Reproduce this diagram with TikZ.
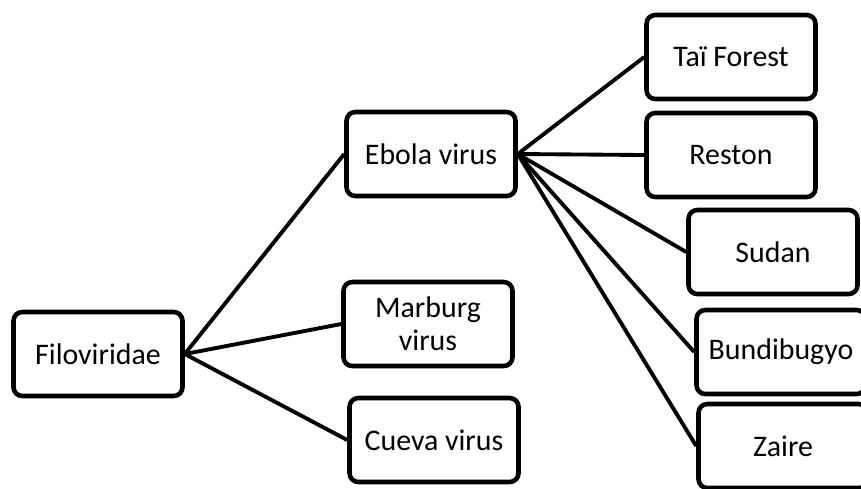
\documentclass[tikz,border=0pt]{standalone}
\usepackage{fontspec}
\setmainfont{Carlito}
\begin{document}
\begin{tikzpicture}[x=0.02cm, y=-0.02cm,
  box/.style={draw, line width=2.6pt, rounded corners=5pt,
    minimum width=3.38cm, minimum height=1.68cm, inner sep=2pt,
    align=center, font=\fontsize{17}{19}\selectfont},
  link/.style={line width=2.2pt}]
  \useasboundingbox (0,0) rectangle (861,488);
  \clip (0,0) rectangle (861,488);
  \def\Xa{98};  % family
  \def\Xb{431}; % genus
  \def\Xc{731}; % species

  % family and genera
  \node[box] (filo) at (\Xa,354) {Filoviridae};
  \node[box] (ebola) at (\Xb,154) {Ebola virus};
  \node[box] (marburg) at (\Xb - 3,324) {Marburg\\virus};
  \node[box] (cueva) at (\Xb + 3,440) {Cueva virus};

  % species of ebola
  \node[box] (tai) at (\Xc,57) {Taï Forest};
  \node[box] (reston) at (\Xc,155) {Reston};
  \node[box] (sudan) at (\Xc + 42,252) {Sudan};
  \node[box] (bundi) at (\Xc + 50,352) {Bundibugyo};
  \node[box] (zaire) at (\Xc + 52,446) {Zaire};

  % links
  \foreach \g in {ebola, marburg, cueva}
    \draw[link] (filo.east) -- (\g.west);
  \foreach \s in {tai, reston, sudan, bundi, zaire}
    \draw[link] (ebola.east) -- (\s.west);
\end{tikzpicture}
\end{document}
